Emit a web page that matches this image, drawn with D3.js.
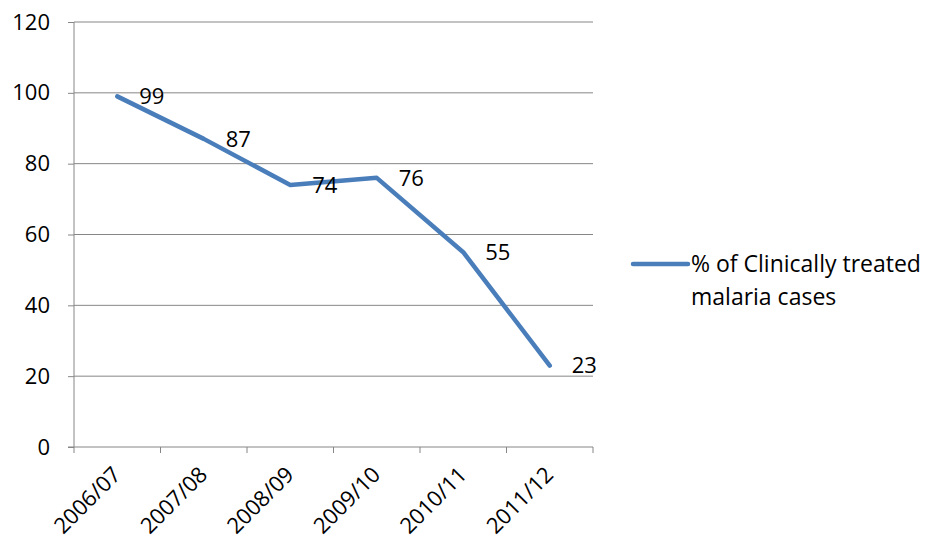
<!DOCTYPE html>
<html>
<head>
<meta charset="utf-8">
<script src="https://cdn.jsdelivr.net/npm/d3@7"></script>
<style>
  body { margin: 0; background: #fff; }
  text { font-family: 'Open Sans', sans-serif; fill: #000; }
</style>
</head>
<body>
<svg id="chart" width="927" height="546"></svg>
<script>
// Chart data
const years = ['2006/07', '2007/08', '2008/09', '2009/10', '2010/11', '2011/12'];
const treatedPct = [99, 87, 74, 76, 55, 23];
const yTicks = [0, 20, 40, 60, 80, 100, 120];
const seriesName = ['% of Clinically treated', 'malaria cases'];

const svg = d3.select('#chart');
const margin = { top: 22, right: 334, bottom: 99, left: 74 };
const width = 927 - margin.left - margin.right;
const height = 546 - margin.top - margin.bottom;
const blue = '#4a7ebb';
const grey = '#868686';
const fontSize = '22px';

const g = svg.append('g').attr('transform', `translate(${margin.left},${margin.top})`);

const x = d3.scaleBand().domain(years).range([0, width]).padding(0);
const y = d3.scaleLinear().domain([0, 120]).range([height, 0]);
const cx = d => x(d) + x.bandwidth() / 2;

// Horizontal gridlines
g.selectAll('.grid')
    .data(yTicks.filter(t => t > 0))
    .enter().append('line')
    .attr('x1', 0).attr('x2', width)
    .attr('y1', d => y(d)).attr('y2', d => y(d))
    .attr('stroke', grey).attr('stroke-width', 1);

// Y axis
const yAxis = g.append('g')
    .call(d3.axisLeft(y).tickValues(yTicks).tickSize(6).tickPadding(18));
yAxis.select('.domain').attr('stroke', grey).attr('d', `M0,0V${height}`);
yAxis.selectAll('.tick line').attr('stroke', grey);
yAxis.selectAll('.tick text').attr('font-size', fontSize).attr('font-family', 'Open Sans').attr('fill', '#000');

// X axis (ticks on category boundaries)
const xAxis = g.append('g').attr('transform', `translate(0,${height})`);
xAxis.append('line').attr('x1', -6).attr('x2', width).attr('stroke', grey);
xAxis.selectAll('.xtick')
    .data(years.map(d => x(d)).concat([width]))
    .enter().append('line')
    .attr('x1', d => d).attr('x2', d => d)
    .attr('y1', 0).attr('y2', 6)
    .attr('stroke', grey);
xAxis.selectAll('.xlabel')
    .data(years)
    .enter().append('text')
    .attr('transform', d => `translate(${cx(d) + 5},${29}) rotate(-45)`)
    .attr('text-anchor', 'end')
    .attr('font-size', fontSize)
    .text(d => d);

// Line
const line = d3.line()
    .x((d, i) => cx(years[i]))
    .y(d => y(d));

g.append('path')
    .datum(treatedPct)
    .attr('fill', 'none')
    .attr('stroke', blue)
    .attr('stroke-width', 4.5)
    .attr('stroke-linecap', 'round')
    .attr('stroke-linejoin', 'round')
    .attr('d', line);

// Data labels
g.selectAll('.label')
    .data(treatedPct)
    .enter().append('text')
    .attr('x', (d, i) => cx(years[i]) + 22)
    .attr('y', d => y(d))
    .attr('dy', '0.35em')
    .attr('font-size', fontSize)
    .text(d => d);

// Legend
const legend = svg.append('g').attr('transform', 'translate(633,264)');
legend.append('line')
    .attr('x1', 0).attr('x2', 55)
    .attr('stroke', blue).attr('stroke-width', 4.5)
    .attr('stroke-linecap', 'round');
legend.selectAll('text')
    .data(seriesName)
    .enter().append('text')
    .attr('x', 58)
    .attr('y', (d, i) => 8 + i * 33)
    .attr('font-size', '23px')
    .text(d => d);
</script>
</body>
</html>
